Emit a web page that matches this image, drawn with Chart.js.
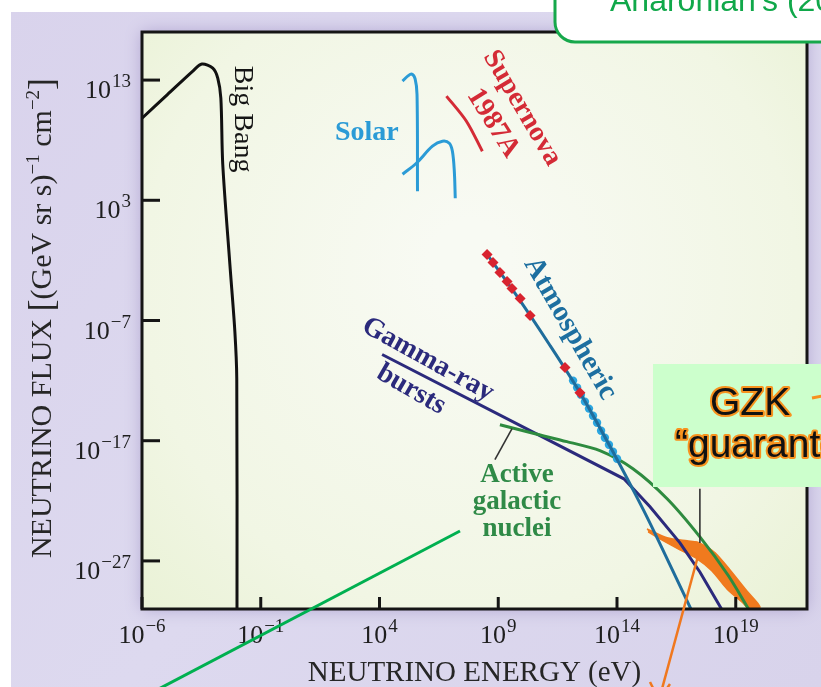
<!DOCTYPE html>
<html>
<head>
<meta charset="utf-8">
<script src="https://cdn.jsdelivr.net/npm/chart.js@4.4.1/dist/chart.umd.min.js"></script>
<style>
  html, body { margin: 0; padding: 0; background: #fff; }
  #wrap { width: 821px; height: 687px; }
</style>
</head>
<body>
<div id="wrap"><canvas id="flux" width="821" height="687"></canvas></div>
<script>
// all values are powers of ten: energy in eV, flux in (GeV sr s)^-1 cm^-2
const xTicks = [-6, -1, 4, 9, 14, 19]
const yTicks = [13, 3, -7, -17, -27]

const bigBangE = [-6.0, -4.93, -3.86, -3.48, -3.02, -2.81, -2.68, -2.6, -2.3, -2.09, -2.01, -2.0]
const bigBangF = [9.83, 11.79, 13.75, 14.33, 14.0, 13.17, 11.5, 6.0, -2.33, -7.92, -11.83, -31.2]

const solarHookE = [4.97, 5.2, 5.36, 5.5, 5.58, 5.6]
const solarHookF = [12.92, 13.35, 13.5, 13.1, 11.8, 3.75]
const solarHumpE = [4.97, 5.55, 6.23, 6.65, 6.94, 7.07, 7.15, 7.19]
const solarHumpF = [5.17, 6.08, 7.5, 7.92, 7.75, 7.08, 5.42, 3.17]

const supernovaE = [6.82, 7.66, 8.33]
const supernovaF = [11.67, 9.58, 7.08]

const atmosE = [8.53, 9.71, 11.18, 12.44, 13.83, 15.09, 15.81, 17.16]
const atmosF = [-1.5, -4.75, -9.08, -13.0, -17.92, -22.67, -25.58, -31.2]
const atmosRedE = [8.53, 8.78, 9.07, 9.37, 9.58, 9.92, 10.34, 11.81, 12.44]
const atmosRedF = [-1.5, -2.17, -3.0, -3.75, -4.33, -5.17, -6.58, -10.92, -13.0]
const atmosBlueE = [12.15, 12.32, 12.48, 12.65, 12.82, 12.99, 13.16, 13.33, 13.49, 13.66, 13.83, 14.0]
const atmosBlueF = [-12.0, -12.58, -13.17, -13.75, -14.33, -14.92, -15.5, -16.17, -16.75, -17.33, -17.92, -18.5]

const grbE = [4.11, 14.29, 15.39, 16.65, 17.49, 18.46]
const grbF = [-9.83, -20.17, -22.5, -25.5, -27.92, -31.2]

const agnE = [9.07, 10.55, 11.89, 13.28, 14.67, 16.11, 17.49, 18.67, 19.6]
const agnF = [-15.67, -16.42, -17.08, -17.83, -19.33, -21.83, -25.0, -28.17, -31.2]

// GZK band outline, upper edge then lower edge back
const gzkE = [15.26, 16.11, 16.95, 17.37, 17.71, 18.13, 18.76, 19.47, 20.02, 19.68, 19.26, 18.63, 18.0, 17.37, 16.65, 15.81, 15.31]
const gzkF = [-24.33, -25.08, -25.33, -25.42, -25.75, -26.33, -27.75, -29.5, -30.83, -31.17, -30.42, -29.33, -27.83, -26.83, -26.08, -25.17, -24.58]

const curveLabels = [
  {text: ['Big Bang'], e: -1.79, f: 9.75, rot: 90, color: '#151515', bold: false, size: 28},
  {text: ['Solar'], e: 3.47, f: 8.6, rot: 0, color: '#2b9bd6', bold: true, size: 28},
  {text: ['Supernova'], e: 10.0, f: 10.67, rot: 59.5, color: '#d42b36', bold: true, size: 28},
  {text: ['1987A'], e: 8.78, f: 9.42, rot: 58, color: '#d42b36', bold: true, size: 28},
  {text: ['Atmospheric'], e: 12.02, f: -7.67, rot: 60, color: '#1d6fa0', bold: true, size: 29},
  {text: ['Gamma-ray'], e: 6.04, f: -10.25, rot: 29, color: '#2b2a7c', bold: true, size: 28},
  {text: ['bursts'], e: 5.33, f: -12.75, rot: 30, color: '#2b2a7c', bold: true, size: 28},
  {text: ['Active', 'galactic', 'nuclei'], e: 9.79, f: -22.08, rot: 0, color: '#2f8a47', bold: true, size: 27}
]
const leaders = [
  {e: [9.58, 8.86], f: [-16.0, -18.58]},
  {e: [17.49, 17.49], f: [-21.0, -25.5]}
]

function pts(es, fs) {
  return es.map((e, i) => ({x: Math.pow(10, e), y: Math.pow(10, fs[i])}))
}

function curve(data, color, width, tension) {
  return {data: pts(data[0], data[1]), showLine: true, borderColor: color, borderWidth: width,
    pointRadius: 0, tension: tension, fill: false}
}

function power(c, exp, x, y, align) {
  const base = '10'
  const sup = exp < 0 ? '\u2212' + (-exp) : String(exp)
  c.font = '26px "Liberation Serif"'
  const wb = c.measureText(base).width
  c.font = '19px "Liberation Serif"'
  const ws = c.measureText(sup).width
  const total = wb + ws + 1
  const x0 = align === 'center' ? x - total / 2 : x - total
  c.textAlign = 'left'
  c.textBaseline = 'alphabetic'
  c.font = '26px "Liberation Serif"'
  c.fillText(base, x0, y)
  c.font = '19px "Liberation Serif"'
  c.fillText(sup, x0 + wb + 1, y - 11)
}

function yTitle(c, cx, cy) {
  const parts = [['NEUTRINO FLUX ', 30, 0], ['[', 36, 0], ['(GeV sr s)', 30, 0], ['\u22121', 19, 12],
    [' cm', 30, 0], ['\u22122', 19, 12], [']', 36, 0]]
  c.save()
  c.translate(cx, cy)
  c.rotate(-Math.PI / 2)
  let total = 0
  parts.forEach(p => { c.font = p[1] + 'px "Liberation Serif"'; total += c.measureText(p[0]).width })
  let x = -total / 2
  c.textAlign = 'left'
  c.textBaseline = 'alphabetic'
  parts.forEach(p => {
    c.font = p[1] + 'px "Liberation Serif"'
    c.fillText(p[0], x, -p[2] + (p[1] === 36 ? 2 : 0))
    x += c.measureText(p[0]).width
  })
  c.restore()
}

const backdrop = {
  id: 'backdrop',
  beforeDraw(chart) {
    const c = chart.ctx, a = chart.chartArea
    c.save()
    c.fillStyle = '#ffffff'
    c.fillRect(0, 0, 821, 687)
    let g = c.createLinearGradient(0, 0, 821, 687)
    g.addColorStop(0, '#d9d3ec')
    g.addColorStop(0.5, '#ddd9ef')
    g.addColorStop(1, '#d8d3eb')
    c.fillStyle = g
    c.fillRect(11, 12, 810, 675)
    c.shadowColor = 'rgba(90, 70, 150, 0.35)'
    c.shadowBlur = 16
    g = c.createRadialGradient(470, 260, 40, 470, 300, 520)
    g.addColorStop(0, '#f8faf3')
    g.addColorStop(0.6, '#f1f6e4')
    g.addColorStop(1, '#e6f0cf')
    c.fillStyle = g
    c.fillRect(a.left, a.top, a.right - a.left, a.bottom - a.top)
    c.restore()
  },
  afterDatasetsDraw(chart) {
    const c = chart.ctx, a = chart.chartArea
    const xs = chart.scales.x, ys = chart.scales.y
    c.save()
    // leader lines for labels
    c.strokeStyle = '#333'
    c.lineWidth = 1.6
    leaders.forEach(l => {
      c.beginPath()
      c.moveTo(xs.getPixelForValue(Math.pow(10, l.e[0])), ys.getPixelForValue(Math.pow(10, l.f[0])))
      c.lineTo(xs.getPixelForValue(Math.pow(10, l.e[1])), ys.getPixelForValue(Math.pow(10, l.f[1])))
      c.stroke()
    })
    curveLabels.forEach(l => {
      c.save()
      c.translate(xs.getPixelForValue(Math.pow(10, l.e)), ys.getPixelForValue(Math.pow(10, l.f)))
      c.rotate(l.rot * Math.PI / 180)
      c.font = (l.bold ? 'bold ' : '') + l.size + 'px "Liberation Serif"'
      c.fillStyle = l.color
      c.textAlign = 'center'
      c.textBaseline = 'middle'
      l.text.forEach((t, i) => c.fillText(t, 0, (i - (l.text.length - 1) / 2) * 27))
      c.restore()
    })
    // frame and inward ticks
    c.strokeStyle = '#151515'
    c.lineWidth = 3
    c.strokeRect(a.left, a.top, a.right - a.left, a.bottom - a.top)
    c.fillStyle = '#1e1e1e'
    ys.ticks.forEach(t => {
      const y = ys.getPixelForValue(t.value)
      c.beginPath(); c.moveTo(a.left, y); c.lineTo(a.left + 18, y); c.stroke()
      power(c, Math.round(Math.log10(t.value)), 131, y + 18, 'right')
    })
    xs.ticks.forEach(t => {
      const x = xs.getPixelForValue(t.value)
      c.beginPath(); c.moveTo(x, a.bottom); c.lineTo(x, a.bottom - 12); c.stroke()
      power(c, Math.round(Math.log10(t.value)), x, a.bottom + 34, 'center')
    })
    c.fillStyle = '#262626'
    c.font = '29px "Liberation Serif"'
    c.textAlign = 'center'
    c.textBaseline = 'alphabetic'
    c.fillText('NEUTRINO ENERGY (eV)', (a.left + a.right) / 2, 681)
    yTitle(c, 51, 318)
    c.restore()
  },
  afterDraw(chart) {
    const c = chart.ctx
    c.save()
    // slide annotations on top of the figure
    c.strokeStyle = '#00b050'
    c.lineWidth = 3
    c.beginPath(); c.moveTo(460, 531); c.lineTo(130, 704); c.stroke()

    c.strokeStyle = '#f0781e'
    c.lineWidth = 2.5
    c.beginPath(); c.moveTo(698, 556); c.lineTo(659, 700); c.stroke()
    c.beginPath(); c.moveTo(650, 682); c.lineTo(659, 700); c.lineTo(670, 684); c.stroke()

    c.fillStyle = '#ccffcc'
    c.fillRect(653, 364, 190, 123)
    c.font = '39px "Liberation Sans"'
    c.textAlign = 'left'
    c.textBaseline = 'alphabetic'
    c.lineJoin = 'round'
    c.lineWidth = 4
    c.strokeStyle = '#f7921e'
    c.fillStyle = '#111'
    c.strokeText('GZK', 710, 415); c.fillText('GZK', 710, 415)
    c.strokeText('\u201cguarantee\u201d', 675, 457); c.fillText('\u201cguarantee\u201d', 675, 457)
    c.lineWidth = 3
    c.beginPath(); c.moveTo(812, 398); c.lineTo(822, 396); c.stroke()

    c.fillStyle = '#ffffff'
    c.strokeStyle = '#16a84b'
    c.lineWidth = 3
    c.beginPath(); c.roundRect(555, -40, 320, 82, 20); c.fill(); c.stroke()
    c.fillStyle = '#10a84a'
    c.font = '32px "Liberation Sans"'
    c.fillText("Aharonian's (2004)", 610, 11)
    c.restore()
  }
}

const chart = new Chart(document.getElementById('flux'), {
  type: 'scatter',
  data: {
    datasets: [
      {data: pts(atmosRedE, atmosRedF), pointStyle: 'rectRot', pointRadius: 5.5, pointBackgroundColor: '#d8232f', pointBorderWidth: 0},
      curve([atmosE, atmosF], '#1f6d9c', 3, 0.3),
      {data: pts(atmosBlueE, atmosBlueF), pointStyle: 'circle', pointRadius: 4.2, pointBackgroundColor: '#2ba6e0', pointBorderWidth: 0},
      curve([agnE, agnF], '#2e8b3f', 3, 0.3),
      curve([grbE, grbF], '#2b2a7c', 3, 0),
      curve([supernovaE, supernovaF], '#d42b36', 3, 0.3),
      curve([solarHookE, solarHookF], '#2b9bd6', 3, 0.35),
      curve([solarHumpE, solarHumpF], '#2b9bd6', 3, 0.35),
      curve([bigBangE, bigBangF], '#111111', 3, 0.3),
      {data: pts(gzkE, gzkF), showLine: true, borderColor: '#f07a1e', borderWidth: 1.5, backgroundColor: '#f07a1e',
        fill: 'shape', pointRadius: 0, tension: 0.25}
    ]
  },
  options: {
    responsive: false,
    animation: false,
    layout: {padding: {left: 12, top: 32, right: 14, bottom: 0}},
    plugins: {legend: {display: false}, tooltip: {enabled: false}},
    scales: {
      x: {
        type: 'logarithmic', min: 1e-6, max: 1e22,
        afterBuildTicks: s => { s.ticks = xTicks.map(e => ({value: Math.pow(10, e)})) },
        afterFit: s => { s.height = 78 },
        ticks: {display: false}, grid: {display: false}, border: {display: false}
      },
      y: {
        type: 'logarithmic', min: 1e-31, max: 1e17,
        afterBuildTicks: s => { s.ticks = yTicks.map(e => ({value: Math.pow(10, e)})) },
        afterFit: s => { s.width = 130 },
        ticks: {display: false}, grid: {display: false}, border: {display: false}
      }
    }
  },
  plugins: [backdrop]
})
</script>
</body>
</html>
